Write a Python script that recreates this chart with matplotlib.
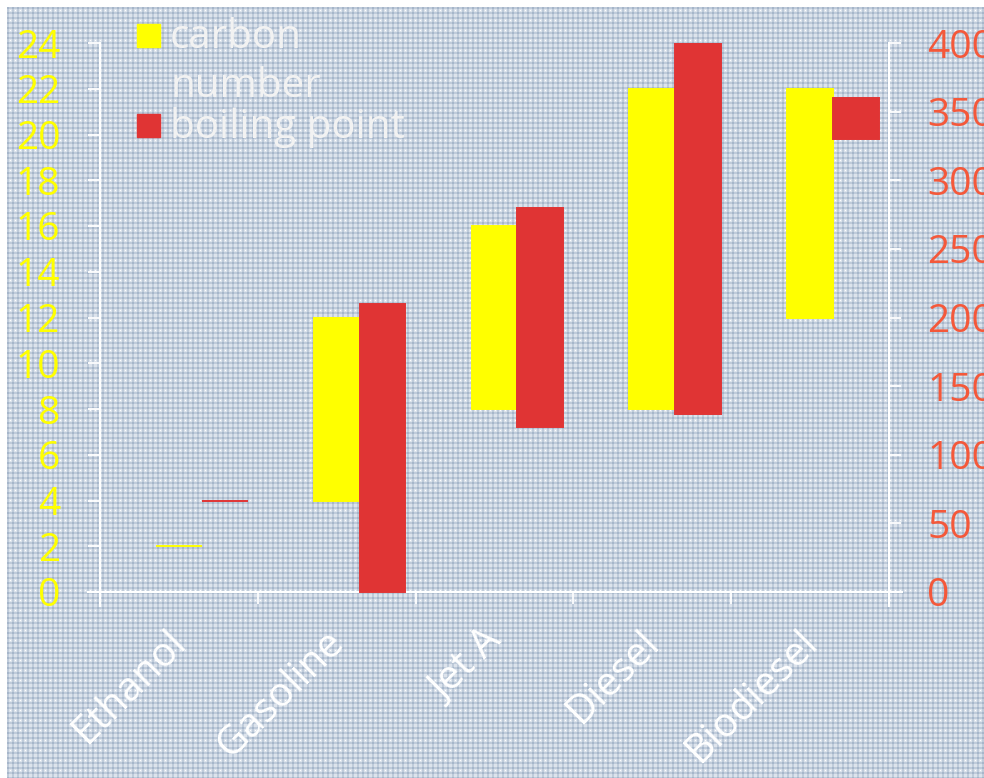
import numpy as np
import matplotlib.pyplot as plt
from matplotlib.patches import Rectangle

fuels = ['Ethanol', 'Gasoline', 'Jet A', 'Diesel', 'Biodiesel']
carbon_low = [2, 4, 8, 8, 12]
carbon_high = [2, 12, 16, 22, 22]
bp_low = [66, 0, 120, 130, 330]
bp_high = [66, 210, 280, 400, 360]

YELLOW = '#ffff00'
RED = '#e03434'
RIGHT_TXT = '#f4583a'
FONT = ['Open Sans', 'DejaVu Sans']

plt.rcParams['font.family'] = FONT

W, H = 984, 778
fig = plt.figure(figsize=(W / 100, H / 100), dpi=100, facecolor='white')

# gingham style background, starts 7px in from top-left
h, w = H - 7, W - 7
yy, xx = np.mgrid[0:h, 0:w]
dark_r = (yy % 5) < 2
dark_c = (xx % 5) < 2
bg = np.empty((h, w, 3))
bg[:] = np.array([0xdc, 0xe3, 0xec]) / 255
bg[dark_r ^ dark_c] = np.array([0xbf, 0xcb, 0xda]) / 255
bg[dark_r & dark_c] = np.array([0xa6, 0xb6, 0xca]) / 255
bg[((yy % 10) == 3) & ((xx % 5) == 3)] = 1.0
bg_ax = fig.add_axes([7 / W, 0, w / W, h / H], zorder=-1)
bg_ax.imshow(bg, aspect='auto', interpolation='nearest')
bg_ax.axis('off')

ax = fig.add_axes([88 / W, (H - 606) / H, 814 / W, 563 / H])
ax.set_facecolor('none')
ax2 = ax.twinx()
ax2.set_facecolor('none')

x = np.arange(len(fuels))
c_h = np.array(carbon_high) - np.array(carbon_low)
b_h = np.array(bp_high) - np.array(bp_low)
ax.bar(x + 0.355, c_h, width=0.29, bottom=carbon_low, align='edge',
       color=YELLOW, edgecolor=YELLOW, linewidth=1.4)
ax2.bar(x + 0.645, b_h, width=0.29, bottom=bp_low, align='edge',
        color=RED, edgecolor=RED, linewidth=1.4)

ax.set_xlim(-12 / 157.8, 5 + 13 / 157.8)
ax.set_ylim(-14 / 22.875, 24)
ax2.set_ylim(-14 / 22.875 * 400 / 24, 400)

for a in (ax, ax2):
    for s in a.spines.values():
        s.set_visible(False)
ax.spines['left'].set_visible(True)
ax.spines['left'].set_position(('data', 0))
ax.spines['bottom'].set_visible(True)
ax.spines['bottom'].set_position(('data', 0))
ax2.spines['right'].set_visible(True)
ax2.spines['right'].set_position(('data', 5))
for s in (ax.spines['left'], ax.spines['bottom'], ax2.spines['right']):
    s.set_color('white')
    s.set_linewidth(1.5)

ax.set_yticks(range(0, 25, 2))
ax2.set_yticks(range(0, 401, 50))
ax.tick_params(axis='y', colors='white', labelcolor=YELLOW, length=8.6,
               width=1.3, pad=20, labelsize=28)
ax2.tick_params(axis='y', colors='white', labelcolor=RIGHT_TXT, length=8.6,
                width=1.3, pad=19, labelsize=28)

ax.set_xticks(range(0, 6))
ax.set_xticklabels([])
ax.set_xticks(x + 0.6, minor=True)
ax.set_xticklabels(fuels, minor=True, rotation=45, ha='right')
ax.tick_params(axis='x', which='major', colors='white', length=8.6, width=1.3)
ax.tick_params(axis='x', which='minor', length=0, pad=22, labelsize=29,
               labelcolor='white')

# legend, drawn by hand so the swatch sits on the first line
for top, col in ((24, YELLOW), (114, RED)):
    fig.patches.append(Rectangle((137 / W, 1 - (top + 23) / H), 23 / W, 23 / H,
                                 transform=fig.transFigure, color=col))
for base, txt in ((48, 'carbon'), (97, 'number'), (138, 'boiling point')):
    fig.text(170 / W, 1 - base / H, txt, fontsize=29, color='#f2f2f2',
             va='baseline')

fig.savefig('out.png', dpi=100, facecolor='white')
